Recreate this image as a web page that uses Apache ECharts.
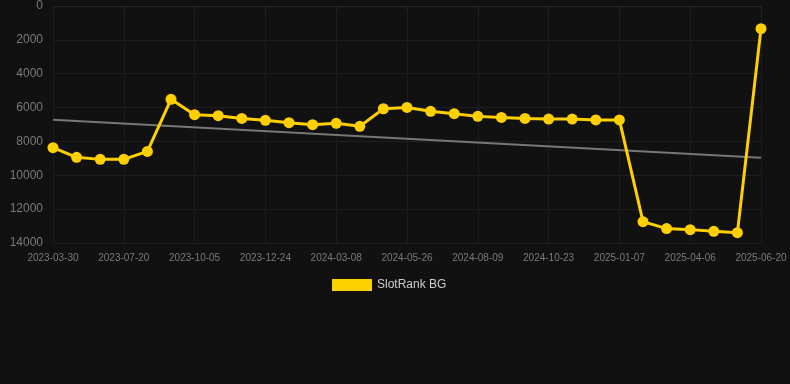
<!DOCTYPE html>
<html>
<head>
<meta charset="utf-8">
<script src="https://cdn.jsdelivr.net/npm/echarts@6/dist/echarts.min.js"></script>
<style>
html,body{margin:0;padding:0;background:#111111;}
#chart{width:790px;height:384px;}
</style>
</head>
<body>
<div id="chart"></div>
<script>
var categories = [
  "2023-03-30","2023-05-06","2023-06-13","2023-07-20","2023-08-15","2023-09-10",
  "2023-10-05","2023-10-31","2023-11-28","2023-12-24","2024-01-18","2024-02-12",
  "2024-03-08","2024-04-04","2024-04-30","2024-05-26","2024-06-20","2024-07-15",
  "2024-08-09","2024-09-03","2024-09-28","2024-10-23","2024-11-17","2024-12-13",
  "2025-01-07","2025-02-05","2025-03-06","2025-04-06","2025-05-01","2025-05-26",
  "2025-06-20"
];
var seriesName = "SlotRank BG";
var rankValues = [
  8370, 8940, 9060, 9060, 8590, 5510,
  6420, 6480, 6640, 6750, 6890, 7010,
  6930, 7110, 6070, 5990, 6220, 6360,
  6520, 6580, 6640, 6680, 6680, 6730,
  6730, 12740, 13150, 13210, 13310, 13390,
  1340
];
var trendStart = 6716;
var trendEnd = 8962;
var yTicks = [0, 2000, 4000, 6000, 8000, 10000, 12000, 14000];

var chart = echarts.init(document.getElementById('chart'), null, {renderer: 'canvas'});
chart.setOption({
  backgroundColor: '#111111',
  animation: false,
  grid: {left: 53, right: 29, top: 6, bottom: 141, containLabel: false},
  legend: {
    show: true,
    data: [seriesName],
    bottom: 88,
    left: 327,
    itemWidth: 40,
    itemHeight: 12,
    icon: 'rect',
    textStyle: {color: '#cccccc', fontSize: 12, fontFamily: 'Liberation Sans, Arial, sans-serif'}
  },
  xAxis: {
    type: 'category',
    data: categories,
    boundaryGap: false,
    axisLine: {show: true, lineStyle: {color: '#262626'}},
    axisTick: {show: true, interval: 2, lineStyle: {color: '#262626'}},
    axisLabel: {interval: 2, color: '#7a7a7a', fontSize: 10, margin: 10, fontFamily: 'Liberation Sans, Arial, sans-serif'},
    splitLine: {show: true, interval: 2, lineStyle: {color: '#1c1c1c'}}
  },
  yAxis: {
    type: 'value',
    inverse: true,
    min: yTicks[0],
    max: yTicks[yTicks.length - 1],
    interval: 2000,
    axisLine: {show: false},
    axisTick: {show: false},
    axisLabel: {
      color: '#7a7a7a', fontSize: 12, margin: 10,
      fontFamily: 'Liberation Sans, Arial, sans-serif',
      formatter: function (v) { return String(v); }
    },
    splitLine: {show: true, lineStyle: {color: '#1e1e1e'}}
  },
  series: [
    {
      name: 'trend',
      type: 'line',
      data: [[0, trendStart], [categories.length - 1, trendEnd]],
      symbol: 'none',
      lineStyle: {color: '#777777', width: 2},
      z: 1,
      silent: true
    },
    {
      name: seriesName,
      type: 'line',
      data: rankValues,
      symbol: 'circle',
      symbolSize: 11,
      itemStyle: {color: '#FFD000'},
      lineStyle: {color: '#FFD000', width: 3},
      z: 3
    }
  ]
});
</script>
</body>
</html>
